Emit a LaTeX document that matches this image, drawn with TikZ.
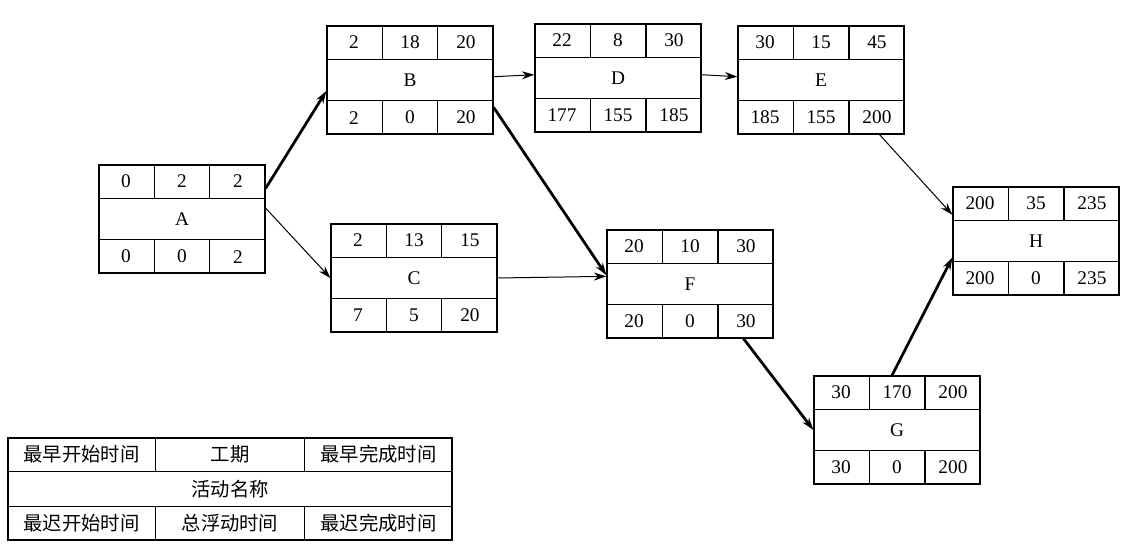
\documentclass[tikz,border=0pt]{standalone}
\usepackage{fontspec}
\setmainfont{Liberation Serif}
\newfontfamily\cjk{Noto Sans CJK SC}
\usetikzlibrary{calc,arrows.meta}

\tikzset{
  actnode/.style={draw,line width=.25mm,minimum width=3.32cm,minimum height=2.16cm,inner sep=0pt},
  cell/.style={font=\fontsize{11}{11}\selectfont,inner sep=0pt},
  thinarrow/.style={-{Stealth[length=2.5mm,width=1.6mm]},line width=.2mm},
  critarrow/.style={-{Stealth[length=2.5mm,width=1.6mm]},line width=.55mm}
}

% activity box: name, position, top three values, label, bottom three values
\newcommand\actbox[9]{
  \node[actnode] (#1) at (#2) {};
  \draw[line width=.25mm] ($(#1.north west)+(0cm,-0.68cm)$) -- ($(#1.north east)+(0cm,-0.68cm)$);
  \draw[line width=.25mm] ($(#1.south west)+(0cm,0.68cm)$) -- ($(#1.south east)+(0cm,0.68cm)$);
  \foreach \f in {1,2}{
    \draw[line width=.25mm] ($(#1.north west)!\f/3!(#1.north east)$) -- +(0cm,-0.68cm);
    \draw[line width=.25mm] ($(#1.south west)!\f/3!(#1.south east)$) -- +(0cm,0.68cm);
  }
  \node[cell] at ($(#1.north west)+(0.553cm,-0.34cm)$) {#3};
  \node[cell] at ($(#1.north)+(0cm,-0.34cm)$) {#4};
  \node[cell] at ($(#1.north east)+(-0.553cm,-0.34cm)$) {#5};
  \node[cell] at (#1.center) {#6};
  \node[cell] at ($(#1.south west)+(0.553cm,0.34cm)$) {#7};
  \node[cell] at ($(#1.south)+(0cm,0.34cm)$) {#8};
  \node[cell] at ($(#1.south east)+(-0.553cm,0.34cm)$) {#9};
}

\begin{document}
\begin{tikzpicture}[x=0.02cm,y=-0.02cm]
  \useasboundingbox (0,0) rectangle (1136,550);

  \actbox{A}{182,219}{0}{2}{2}{A}{0}{0}{2}
  \actbox{B}{410,80}{2}{18}{20}{B}{2}{0}{20}
  \actbox{C}{414,278}{2}{13}{15}{C}{7}{5}{20}
  \actbox{D}{618,78}{22}{8}{30}{D}{177}{155}{185}
  \actbox{E}{821,80}{30}{15}{45}{E}{185}{155}{200}
  \actbox{F}{690,284}{20}{10}{30}{F}{20}{0}{30}
  \actbox{G}{897,430}{30}{170}{200}{G}{30}{0}{200}
  \actbox{H}{1036,241}{200}{35}{235}{H}{200}{0}{235}

  % legend
  \node[draw,line width=.25mm,minimum width=8.88cm,minimum height=2.04cm] (key) at (230,489) {};
  \draw[line width=.25mm] ($(key.north west)+(0cm,-0.68cm)$) -- ($(key.north east)+(0cm,-0.68cm)$);
  \draw[line width=.25mm] ($(key.south west)+(0cm,0.68cm)$) -- ($(key.south east)+(0cm,0.68cm)$);
  \foreach \f in {1,2}{
    \draw[line width=.25mm] ($(key.north west)!\f/3!(key.north east)$) -- +(0cm,-0.68cm);
    \draw[line width=.25mm] ($(key.south west)!\f/3!(key.south east)$) -- +(0cm,0.68cm);
  }
  \node[cell] at ($(key.north west)+(1.48cm,-0.34cm)$) {\cjk 最早开始时间};
  \node[cell] at ($(key.north)+(0cm,-0.34cm)$) {\cjk 工期};
  \node[cell] at ($(key.north east)+(-1.48cm,-0.34cm)$) {\cjk 最早完成时间};
  \node[cell] at (key.center) {\cjk 活动名称};
  \node[cell] at ($(key.south west)+(1.48cm,0.34cm)$) {\cjk 最迟开始时间};
  \node[cell] at ($(key.south)+(0cm,0.34cm)$) {\cjk 总浮动时间};
  \node[cell] at ($(key.south east)+(-1.48cm,0.34cm)$) {\cjk 最迟完成时间};

  % connectors
  \draw[critarrow] ($(A.north east)!0.22!(A.south east)$) -- ($(B.north west)!0.6!(B.south west)$);
  \draw[thinarrow] ($(A.north east)!0.4!(A.south east)$) -- ($(C.north west)!0.5!(C.south west)$);
  \draw[thinarrow] ($(B.north east)!0.47!(B.south east)$) -- ($(D.north west)!0.47!(D.south west)$);
  \draw[thinarrow] ($(D.north east)!0.47!(D.south east)$) -- ($(E.north west)!0.47!(E.south west)$);
  \draw[critarrow] ($(B.north east)!0.75!(B.south east)$) -- ($(F.north west)!0.42!(F.south west)$);
  \draw[thinarrow] (C.east) -- ($(F.north west)!0.43!(F.south west)$);
  \draw[thinarrow] ($(E.south west)!0.85!(E.south east)$) -- ($(H.north west)!0.26!(H.south west)$);
  \draw[critarrow] ($(F.south west)!0.82!(F.south east)$) -- ($(G.north west)!0.5!(G.south west)$);
  \draw[critarrow] ($(G.north west)!0.47!(G.north east)$) -- ($(H.north west)!0.65!(H.south west)$);
\end{tikzpicture}
\end{document}
